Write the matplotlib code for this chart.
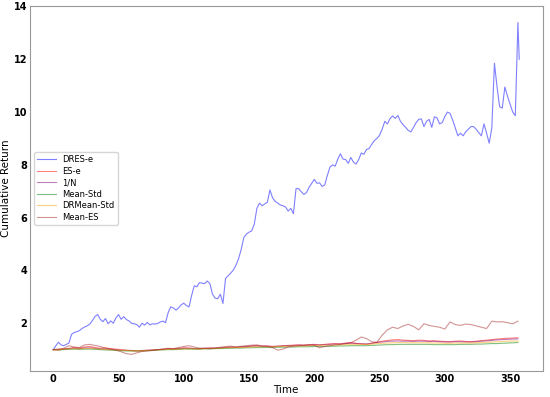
import matplotlib
matplotlib.use('Agg')
import matplotlib.pyplot as plt
import numpy as np

# DRES-e, read every 2 days (last point at day 357)
dres_e = [1.00, 1.15, 1.28, 1.18, 1.15, 1.20, 1.25, 1.58, 1.65, 1.68,
          1.72, 1.80, 1.86, 1.90, 1.97, 2.10, 2.26, 2.33, 2.15, 2.06,
          2.18, 1.98, 2.09, 2.00, 2.20, 2.33, 2.15, 2.25, 2.14, 2.09,
          2.00, 1.98, 1.95, 1.85, 2.00, 1.93, 2.03, 1.94, 1.98, 1.97,
          1.99, 2.05, 2.08, 2.02, 2.40, 2.62, 2.58, 2.50, 2.58, 2.70,
          2.76, 2.67, 2.62, 3.05, 3.42, 3.38, 3.54, 3.52, 3.50, 3.60,
          3.50, 3.10, 2.95, 2.93, 3.10, 2.75, 3.70, 3.80, 3.90, 4.02,
          4.20, 4.45, 4.80, 5.25, 5.38, 5.45, 5.50, 5.75, 6.35, 6.55,
          6.45, 6.52, 6.58, 7.05, 6.75, 6.62, 6.55, 6.48, 6.45, 6.40,
          6.25, 6.35, 6.15, 7.10, 7.10, 6.98, 6.88, 6.95, 7.15, 7.30,
          7.45, 7.30, 7.32, 7.18, 7.24, 7.60, 7.92, 8.00, 7.95, 8.22,
          8.42, 8.22, 8.20, 8.06, 8.28, 8.10, 8.03, 8.20, 8.45, 8.40,
          8.58, 8.62, 8.78, 8.92, 9.00, 9.12, 9.35, 9.65, 9.55, 9.75,
          9.85, 9.76, 9.87, 9.65, 9.52, 9.42, 9.30, 9.25, 9.42, 9.60,
          9.72, 9.74, 9.45, 9.65, 9.72, 9.42, 9.82, 9.78, 9.55, 9.60,
          9.83, 10.00, 9.95, 9.70, 9.40, 9.10, 9.20, 9.10, 9.25, 9.35,
          9.45, 9.45, 9.35, 9.22, 9.10, 9.55, 9.20, 8.82, 9.40, 11.85,
          10.95, 10.20, 10.15, 10.95, 10.60, 10.30, 10.00, 9.86, 13.39, 12.00]

# other strategies, read every 4 days
es_e = [1.00, 0.98, 1.02, 1.05, 1.08, 1.06, 1.10, 1.12, 1.08, 1.05,
        1.07, 1.04, 1.02, 1.00, 0.98, 0.96, 0.95, 0.96, 0.97, 0.98,
        1.00, 1.02, 1.04, 1.03, 1.05, 1.07, 1.06, 1.04, 1.03, 1.05,
        1.06, 1.05, 1.07, 1.08, 1.10, 1.09, 1.11, 1.12, 1.14, 1.15,
        1.13, 1.14, 1.12, 1.13, 1.15, 1.16, 1.17, 1.18, 1.17, 1.19,
        1.20, 1.18, 1.20, 1.22, 1.23, 1.22, 1.25, 1.27, 1.24, 1.22,
        1.20, 1.24, 1.28, 1.32, 1.35, 1.37, 1.38, 1.36, 1.35, 1.34,
        1.36, 1.35, 1.33, 1.34, 1.32, 1.31, 1.30, 1.32, 1.33, 1.31,
        1.30, 1.32, 1.34, 1.36, 1.38, 1.40, 1.42, 1.43, 1.44, 1.45]

one_n = [1.00, 1.01, 1.03, 1.04, 1.05, 1.04, 1.06, 1.07, 1.05, 1.03,
         1.02, 1.01, 1.00, 0.98, 0.97, 0.97, 0.96, 0.97, 0.98, 0.99,
         1.00, 1.01, 1.02, 1.02, 1.03, 1.05, 1.05, 1.04, 1.04, 1.05,
         1.06, 1.06, 1.07, 1.08, 1.09, 1.09, 1.10, 1.11, 1.13, 1.14,
         1.13, 1.13, 1.12, 1.13, 1.14, 1.15, 1.16, 1.17, 1.16, 1.17,
         1.18, 1.18, 1.19, 1.20, 1.21, 1.21, 1.23, 1.24, 1.23, 1.22,
         1.22, 1.24, 1.27, 1.29, 1.31, 1.32, 1.33, 1.32, 1.32, 1.31,
         1.32, 1.32, 1.31, 1.31, 1.30, 1.29, 1.29, 1.30, 1.30, 1.29,
         1.29, 1.30, 1.32, 1.33, 1.35, 1.37, 1.38, 1.39, 1.40, 1.41]

mean_std = [1.00, 0.99, 1.00, 1.01, 1.02, 1.01, 1.02, 1.02, 1.01, 1.00,
            0.99, 0.98, 0.97, 0.96, 0.95, 0.95, 0.95, 0.95, 0.96, 0.97,
            0.98, 0.99, 1.00, 1.00, 1.01, 1.02, 1.02, 1.02, 1.02, 1.03,
            1.03, 1.04, 1.04, 1.05, 1.05, 1.06, 1.06, 1.07, 1.07, 1.08,
            1.08, 1.08, 1.08, 1.09, 1.09, 1.10, 1.10, 1.11, 1.11, 1.11,
            1.12, 1.12, 1.12, 1.13, 1.13, 1.14, 1.14, 1.15, 1.15, 1.15,
            1.15, 1.16, 1.17, 1.18, 1.19, 1.19, 1.20, 1.20, 1.20, 1.20,
            1.20, 1.20, 1.20, 1.19, 1.19, 1.19, 1.19, 1.19, 1.20, 1.20,
            1.20, 1.21, 1.21, 1.22, 1.23, 1.23, 1.24, 1.25, 1.26, 1.27]

drmean_std = [1.00, 1.00, 1.02, 1.03, 1.04, 1.03, 1.04, 1.05, 1.04, 1.02,
              1.01, 1.00, 0.99, 0.98, 0.97, 0.96, 0.96, 0.96, 0.97, 0.98,
              0.99, 1.00, 1.01, 1.01, 1.02, 1.03, 1.03, 1.03, 1.03, 1.04,
              1.05, 1.05, 1.06, 1.07, 1.07, 1.08, 1.08, 1.09, 1.10, 1.11,
              1.11, 1.11, 1.11, 1.12, 1.12, 1.13, 1.14, 1.14, 1.14, 1.15,
              1.16, 1.16, 1.17, 1.17, 1.18, 1.18, 1.19, 1.20, 1.20, 1.20,
              1.20, 1.21, 1.23, 1.24, 1.25, 1.26, 1.27, 1.27, 1.26, 1.26,
              1.26, 1.26, 1.26, 1.25, 1.25, 1.24, 1.24, 1.25, 1.25, 1.25,
              1.25, 1.26, 1.27, 1.28, 1.29, 1.30, 1.31, 1.32, 1.33, 1.33]

mean_es = [1.00, 1.02, 1.05, 1.15, 1.10, 1.08, 1.18, 1.20, 1.16, 1.12,
           1.05, 1.02, 0.98, 0.92, 0.85, 0.82, 0.88, 0.93, 0.95, 0.97,
           1.00, 1.02, 1.05, 1.04, 1.08, 1.12, 1.15, 1.10, 1.06, 1.05,
           1.03, 1.06, 1.09, 1.12, 1.13, 1.10, 1.13, 1.15, 1.17, 1.18,
           1.14, 1.12, 1.08, 0.98, 1.02, 1.10, 1.13, 1.15, 1.17, 1.18,
           1.17, 1.07, 1.12, 1.15, 1.18, 1.20, 1.23, 1.26, 1.36, 1.48,
           1.42, 1.30, 1.28, 1.55, 1.75, 1.85, 1.80, 1.90, 1.96, 1.88,
           1.75, 1.98, 1.92, 1.88, 1.85, 1.78, 2.05, 1.95, 1.92, 1.97,
           1.95, 1.90, 1.85, 1.80, 2.08, 2.05, 2.06, 2.02, 1.98, 2.08]

t_dres = np.r_[np.arange(0, 357, 2), 357][:len(dres_e)]

fig, ax = plt.subplots(figsize=(5.5, 3.97), dpi=100)
fig.subplots_adjust(left=0.0545, right=0.9864, bottom=0.0655, top=0.985)

ax.plot(t_dres, dres_e, color='blue', alpha=0.5, lw=0.8, label='DRES-e')
series = [(es_e, 'red', 'ES-e'), (one_n, 'purple', '1/N'),
          (mean_std, 'green', 'Mean-Std'), (drmean_std, 'orange', 'DRMean-Std'),
          (mean_es, 'brown', 'Mean-ES')]
for vals, c, name in series:
    t = np.linspace(0, 356, len(vals))
    ax.plot(t, vals, color=c, alpha=0.5, lw=0.8, label=name)

ax.set_xticks([0, 50, 100, 150, 200, 250, 300, 350])
ax.set_yticks([2, 4, 6, 8, 10, 12, 14])
ax.tick_params(labelsize=7, length=0, pad=2)
for lab in ax.get_xticklabels() + ax.get_yticklabels():
    lab.set_fontweight('bold')
for s in ax.spines.values():
    s.set_color('#999999')
    s.set_linewidth(0.8)

ax.set_xlabel('Time', fontsize=7.5, labelpad=1)
ax.set_ylabel('Cumulative Return', fontsize=7.5, labelpad=2)
ax.legend(loc='center left', fontsize=6, handlelength=2.2, labelspacing=0.3)

fig.savefig('out.png')
